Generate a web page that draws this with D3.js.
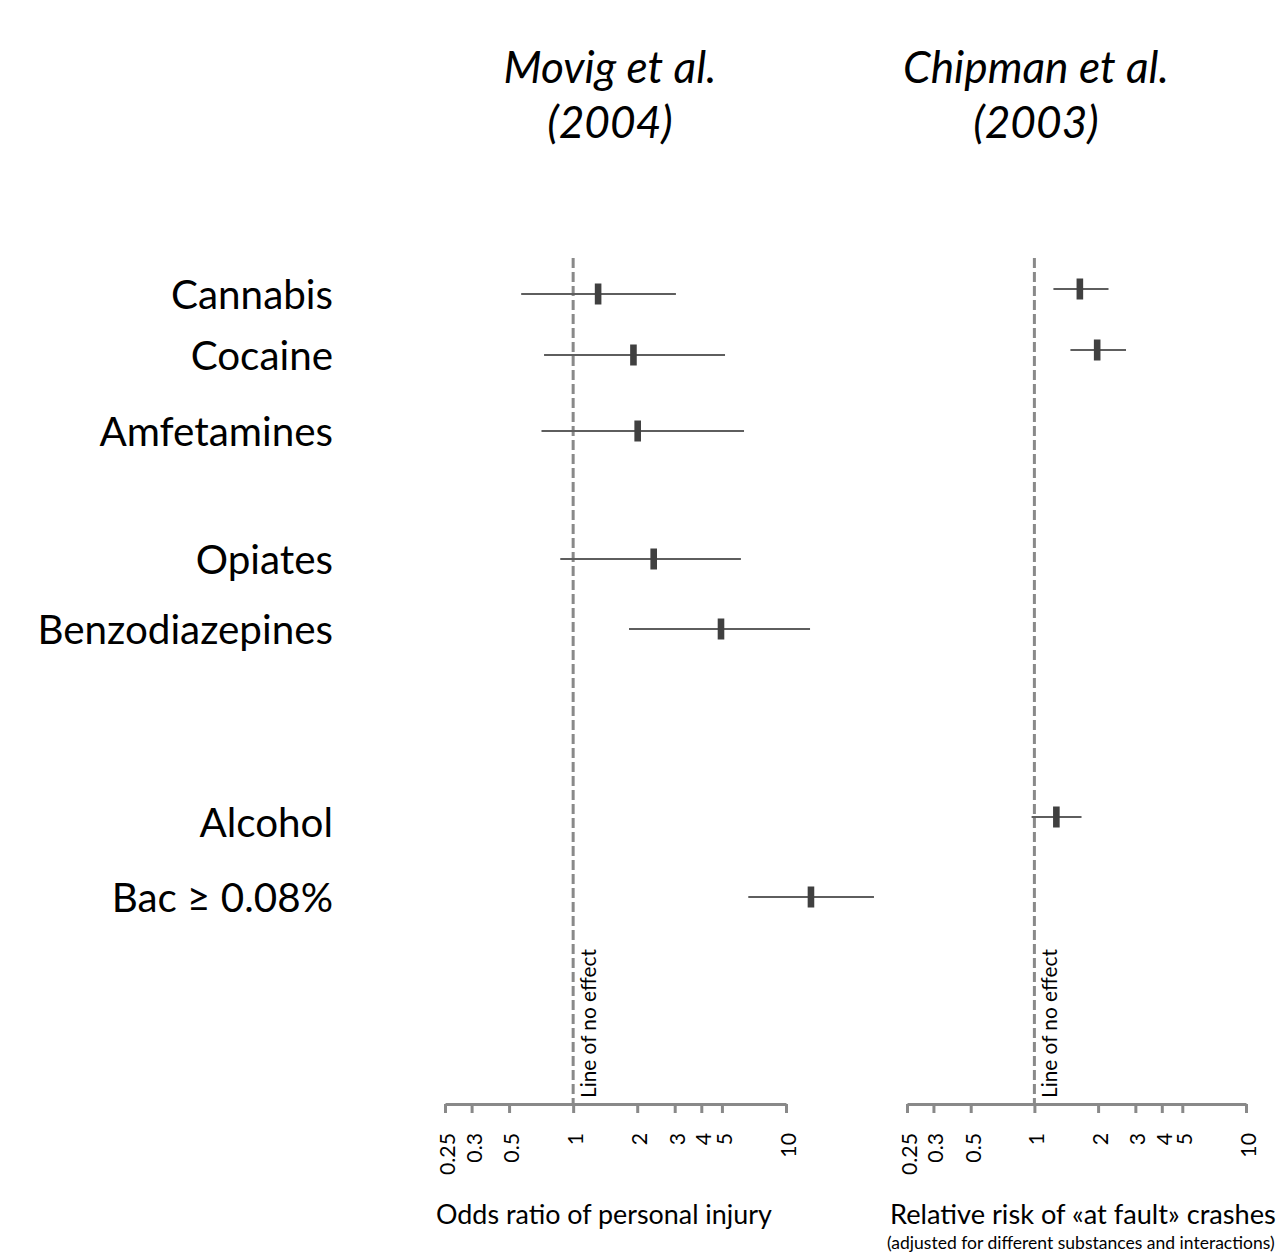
<!DOCTYPE html>
<html>
<head>
<meta charset="utf-8">
<script src="https://cdn.jsdelivr.net/npm/d3@7"></script>
<style>
  html, body { margin: 0; padding: 0; background: #fff; overflow: hidden; }
  svg { display: block; }
</style>
</head>
<body>
<svg id="chart" width="1279" height="1253"></svg>
<script>
// Substances, top to bottom
const categories = ["Cannabis", "Cocaine", "Amfetamines", "Opiates", "Benzodiazepines", "Alcohol", "Bac \u2265 0.08%"];

// Movig et al. (2004): odds ratio of personal injury with 95% CI
const movigEstimate = [1.31, 1.92, 2.01, 2.39, 4.95, null, 13.1];
const movigLower    = [0.57, 0.73, 0.71, 0.87, 1.83, null, 6.65];
const movigUpper    = [3.04, 5.17, 6.35, 6.14, 12.97, null, 25.9];

// Chipman et al. (2003): relative risk of "at fault" crashes with 95% CI
const chipmanEstimate = [1.64, 1.98, null, null, null, 1.27, null];
const chipmanLower    = [1.23, 1.48, null, null, null, 0.97, null];
const chipmanUpper    = [2.24, 2.71, null, null, null, 1.67, null];

// Log axis ticks and their printed labels
const tickValues = [0.25, 1 / 3, 0.5, 1, 2, 3, 4, 5, 10];
const tickLabels = ["0.25", "0.3", "0.5", "1", "2", "3", "4", "5", "10"];

const FONT = "Lato, 'Open Sans', 'Liberation Sans', sans-serif";
const TEXT = "#000";
const GREY = "#898989";

const svg = d3.select("#chart");

// Vertical placement of each substance row
const rowY = d3.scaleOrdinal()
  .domain(categories)
  .range([294, 355, 431, 559, 629, 822, 897]);

const axisY = 1104;
const topY = 258;

// Font size that makes a text span the given width
function fitWidth(sel, width) {
  const w = sel.node().getComputedTextLength();
  const fs = parseFloat(sel.attr("font-size"));
  return fs * width / w;
}

// Category labels
const labelProbe = svg.append("text").attr("font-family", FONT).attr("font-size", 40).text(categories[0]);
const labelSize = fitWidth(labelProbe, 162);
labelProbe.remove();

svg.append("g").selectAll("text")
  .data(categories)
  .join("text")
  .attr("x", 333)
  .attr("y", d => rowY(d))
  .attr("dy", "0.36em")
  .attr("text-anchor", "end")
  .attr("font-family", FONT)
  .attr("font-size", labelSize)
  .attr("fill", TEXT)
  .text(d => d);

// Panel titles
const titleProbe = svg.append("text").attr("font-family", FONT).attr("font-style", "italic")
  .attr("font-size", 40).text("Movig et al.");
const titleSize = fitWidth(titleProbe, 213);
titleProbe.remove();

// Tick label sizing
const tickProbe = svg.append("text").attr("font-family", FONT).attr("font-size", 20).text("0.25");
const tickSize = fitWidth(tickProbe, 42);
tickProbe.remove();

const noEffectProbe = svg.append("text").attr("font-family", FONT).attr("font-size", 18).text("Line of no effect");
const noEffectSize = fitWidth(noEffectProbe, 149);
noEffectProbe.remove();

function drawPanel(opts) {
  const x = d3.scaleLog().domain([0.25, 10]).range(opts.range);
  const g = svg.append("g");

  // Title
  const title = g.append("text")
    .attr("font-family", FONT)
    .attr("font-style", "italic")
    .attr("font-size", titleSize)
    .attr("fill", TEXT)
    .attr("text-anchor", "middle");
  title.append("tspan").attr("x", opts.titleX).attr("y", 83).text(opts.title[0]);
  title.append("tspan").attr("x", opts.titleX).attr("y", 138).text(opts.title[1]);

  // Line of no effect
  g.append("line")
    .attr("x1", x(1)).attr("x2", x(1))
    .attr("y1", topY).attr("y2", axisY)
    .attr("stroke", GREY)
    .attr("stroke-width", 3)
    .attr("stroke-dasharray", "10,4");

  g.append("text")
    .attr("transform", `translate(${x(1) + 23},${axisY - 6}) rotate(-90)`)
    .attr("font-family", FONT)
    .attr("font-size", noEffectSize)
    .attr("fill", TEXT)
    .text("Line of no effect");

  // Axis
  const axis = d3.axisBottom(x)
    .tickValues(tickValues)
    .tickFormat((d, i) => tickLabels[i])
    .tickSize(9)
    .tickSizeOuter(0);

  const ax = g.append("g")
    .attr("transform", `translate(0,${axisY})`)
    .call(axis);
  ax.select(".domain").attr("stroke", GREY).attr("stroke-width", 3);
  ax.selectAll(".tick line").attr("stroke", GREY).attr("stroke-width", 3);
  ax.selectAll(".tick text")
    .attr("transform", "rotate(-90)")
    .attr("x", -29)
    .attr("y", 2)
    .attr("dy", "0.35em")
    .attr("text-anchor", "end")
    .attr("font-family", FONT)
    .attr("font-size", tickSize)
    .attr("fill", TEXT);

  // Confidence intervals and point estimates
  const rows = categories.map((c, i) => ({
    c, est: opts.est[i], lo: opts.lo[i], hi: opts.hi[i]
  })).filter(d => d.est != null);

  g.append("g").selectAll("line")
    .data(rows)
    .join("line")
    .attr("x1", d => x(d.lo))
    .attr("x2", d => x(d.hi))
    .attr("y1", d => rowY(d.c) + opts.dy)
    .attr("y2", d => rowY(d.c) + opts.dy)
    .attr("stroke", "#5e5e5e")
    .attr("stroke-width", 1.8);

  g.append("g").selectAll("rect")
    .data(rows)
    .join("rect")
    .attr("x", d => x(d.est) - 3.3)
    .attr("y", d => rowY(d.c) + opts.dy - 10.5)
    .attr("width", 6.6)
    .attr("height", 21)
    .attr("fill", "#404040");

  // Axis caption
  const cap = g.append("text")
    .attr("x", opts.captionX)
    .attr("y", 1224)
    .attr("font-family", FONT)
    .attr("font-size", 26)
    .attr("fill", TEXT)
    .text(opts.caption);
  cap.attr("font-size", fitWidth(cap, opts.captionWidth));

  if (opts.note) {
    const note = g.append("text")
      .attr("x", opts.noteX)
      .attr("y", 1249)
      .attr("font-family", FONT)
      .attr("font-size", 14)
      .attr("fill", TEXT)
      .text(opts.note);
    note.attr("font-size", fitWidth(note, opts.noteWidth));
  }
}

drawPanel({
  range: [445, 786],
  title: ["Movig et al.", "(2004)"],
  titleX: 610,
  est: movigEstimate, lo: movigLower, hi: movigUpper,
  dy: 0,
  caption: "Odds ratio of personal injury",
  captionX: 436, captionWidth: 336
});

drawPanel({
  range: [907, 1246],
  title: ["Chipman et al.", "(2003)"],
  titleX: 1036,
  est: chipmanEstimate, lo: chipmanLower, hi: chipmanUpper,
  dy: -5,
  caption: "Relative risk of \u00abat fault\u00bb crashes",
  captionX: 890, captionWidth: 386,
  note: "(adjusted for different substances and interactions)",
  noteX: 887, noteWidth: 388
});
</script>
</body>
</html>
